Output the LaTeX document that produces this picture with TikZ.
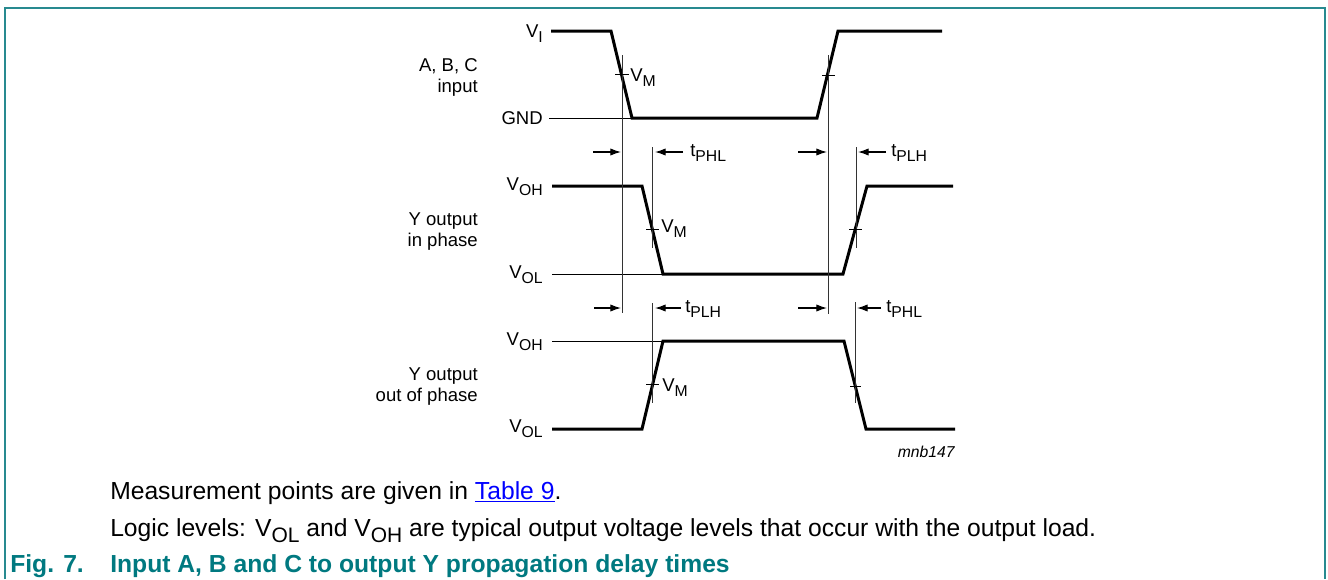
\documentclass[tikz,border=0pt]{standalone}
\usepackage{fontspec}
\setmainfont{Liberation Sans}
\usetikzlibrary{arrows.meta}
\definecolor{nxpteal}{RGB}{0,121,128}
\definecolor{framecol}{RGB}{40,138,144}
\definecolor{linkblue}{RGB}{0,0,255}
\newcommand{\lsub}[1]{\raisebox{-0.27em}{\scalebox{0.85}{#1}}}
\begin{document}
\begin{tikzpicture}[x=0.75pt,y=-0.75pt,
  sig/.style={line width=2.25pt, line join=miter},
  thinline/.style={line width=0.75pt},
  refline/.style={line width=0.75pt, black!80},
  lbl/.style={font=\fontsize{13.9}{16}\selectfont, inner sep=0pt},
  lblr/.style={lbl, anchor=base east},
  lbll/.style={lbl, anchor=base west},
  bodytext/.style={font=\fontsize{18.5}{22}\selectfont, inner sep=0pt, anchor=base west},
  captext/.style={font=\fontsize{18.5}{22}\selectfont\bfseries, text=nxpteal, inner sep=0pt, anchor=base west},
  arr/.style={line width=0.9pt, -{Latex[length=8pt,width=5.5pt]}},
]
\useasboundingbox (0,0) rectangle (1328,579);
\draw[framecol, line width=1.5pt] (5,579) -- (5,8) -- (1325,8) -- (1325,579);

% ---- waveforms
\draw[sig] (551,31) -- (611,31) -- (632,118) -- (817,118) -- (838,31) -- (942,31);
\draw[thinline] (549,118) -- (632,118);
\draw[sig] (552,186) -- (642,186) -- (663,274) -- (843,274) -- (867,186) -- (953,186);
\draw[thinline] (552,274) -- (663,274);
\draw[sig] (552,429) -- (642,429) -- (663,341) -- (844,341) -- (866,429) -- (955,429);
\draw[thinline] (552,341) -- (663,341);

% ---- reference lines
\coordinate (r1t) at (622,55);  \coordinate (r1b) at (622,313);
\coordinate (r2t) at (828,55);  \coordinate (r2b) at (828,314);
\coordinate (r3t) at (652,147); \coordinate (r3b) at (652,248);
\coordinate (r4t) at (856,147); \coordinate (r4b) at (856,248);
\coordinate (r5t) at (652,303); \coordinate (r5b) at (652,403);
\coordinate (r6t) at (855,302); \coordinate (r6b) at (855,403);
\foreach \i in {1,...,6} \draw[refline] (r\i t) -- (r\i b);

% ---- VM ticks
\draw[thinline] (615,74) -- (629,74);
\draw[thinline] (822,75) -- (835,75);
\draw[thinline] (646,229) -- (659,229);
\draw[thinline] (849,229) -- (862,229);
\draw[thinline] (646,384) -- (659,384);
\draw[thinline] (850,386) -- (861,386);

% ---- arrows
\coordinate (a1) at (593,152); \coordinate (b1) at (621,152);
\coordinate (a2) at (683,152); \coordinate (b2) at (655,152);
\coordinate (a3) at (798,152); \coordinate (b3) at (827,152);
\coordinate (a4) at (886,152); \coordinate (b4) at (858,152);
\coordinate (a5) at (594,308); \coordinate (b5) at (621,308);
\coordinate (a6) at (681,308); \coordinate (b6) at (655,308);
\coordinate (a7) at (798,308); \coordinate (b7) at (827,308);
\coordinate (a8) at (881,308); \coordinate (b8) at (857,308);
\foreach \i in {1,...,8} \draw[arr] (a\i) -- (b\i);

% ---- labels
\node[lblr] (vi)   at (543,37)  {V\lsub{I}};
\node[lblr] (abc)  at (478,71)  {A, B, C};
\node[lblr] (inp)  at (478,92)  {input};
\node[lblr] (gnd)  at (543,124.5) {GND};
\node[lblr] (voh1) at (543,190) {V\lsub{OH}};
\node[lblr] (yo1)  at (478,225) {Y output};
\node[lblr] (inph) at (478,246) {in phase};
\node[lblr] (vol1) at (543,278) {V\lsub{OL}};
\node[lblr] (voh2) at (543,345) {V\lsub{OH}};
\node[lblr] (yo2)  at (478,380) {Y output};
\node[lblr] (ooph) at (478,401) {out of phase};
\node[lblr] (vol2) at (543,432) {V\lsub{OL}};

\node[lbll] (vm1) at (630,81)  {V\lsub{M}};
\node[lbll] (vm2) at (661,232) {V\lsub{M}};
\node[lbll] (vm3) at (662,391) {V\lsub{M}};

\node[lbll] (t1) at (690,156) {t\lsub{PHL}};
\node[lbll] (t2) at (891,156) {t\lsub{PLH}};
\node[lbll] (t3) at (685,312.5) {t\lsub{PLH}};
\node[lbll] (t4) at (886,312.5) {t\lsub{PHL}};

\node[lblr, font=\fontsize{11.8}{14}\selectfont\itshape] (code) at (955,457.5) {mnb147};

\node[bodytext] (n1) at (110,499) {Measurement points are given in \textcolor{linkblue}{\underline{Table 9}}.};
\node[bodytext] (n2) at (110,536) {Logic levels: V\lsub{OL} and V\lsub{OH} are typical output voltage levels that occur with the output load.};
\node[captext] (fig) at (10,572) {Fig. 7.};
\node[captext] (cap) at (110,572) {Input A, B and C to output Y propagation delay times};
\end{tikzpicture}
\end{document}
